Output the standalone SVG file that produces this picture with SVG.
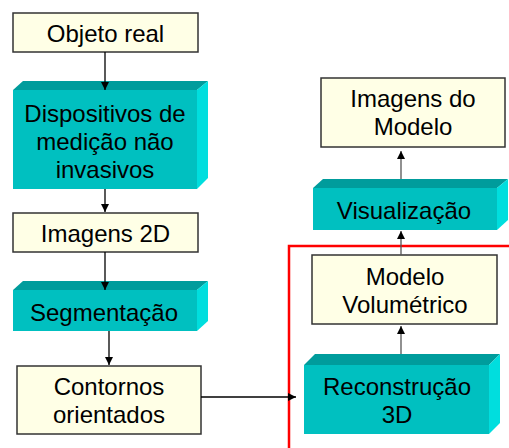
<svg xmlns="http://www.w3.org/2000/svg" width="509" height="448" viewBox="0 0 509 448">
<defs>
<style>
.box{fill:#FFFFE6;stroke:#333;stroke-width:1.5}
.front{fill:#00C0C0}
.top{fill:#009C9C}
.side{fill:#00DEDE}
.t{font-family:"Liberation Sans",Arial,sans-serif;font-size:24px;fill:#000;text-anchor:middle}
.c{stroke:#000;stroke-width:1.3;fill:none}
.cg{stroke:#555;stroke-width:1.3;fill:none}
</style>
<marker id="ah" viewBox="0 0 10 10" refX="10" refY="5" markerWidth="8" markerHeight="8" markerUnits="userSpaceOnUse" orient="auto">
<path d="M0,0 L10,5 L0,10 z" fill="#000"/>
</marker>
</defs>
<rect x="289" y="246" width="240" height="220" fill="none" stroke="#FF0000" stroke-width="2.5"/>
<g id="objeto-real">
<rect class="box" x="13" y="13" width="185" height="39"/>
<text class="t" x="105.5" y="42">Objeto real</text>
</g>
<g id="dispositivos">
<polygon class="top" points="13,90 23,81 208,81 197,90"/>
<polygon class="side" points="197,90 208,81 208,178 197,189"/>
<rect class="front" x="13" y="90" width="184" height="99"/>
<text class="t" x="105" y="122">Dispositivos de</text>
<text class="t" x="105" y="150">medição não</text>
<text class="t" x="105" y="178">invasivos</text>
</g>
<g id="imagens-2d">
<rect class="box" x="13" y="213" width="185" height="39"/>
<text class="t" x="105.5" y="242">Imagens 2D</text>
</g>
<g id="segmentacao">
<polygon class="top" points="13,290 23,281 208,281 197,290"/>
<polygon class="side" points="197,290 208,281 208,321 197,331"/>
<rect class="front" x="13" y="290" width="184" height="41"/>
<text class="t" x="104" y="321">Segmentação</text>
</g>
<g id="contornos">
<rect class="box" x="17" y="366" width="184" height="68"/>
<text class="t" x="109" y="395">Contornos</text>
<text class="t" x="109" y="423">orientados</text>
</g>
<g id="imagens-modelo">
<rect class="box" x="321" y="78" width="184" height="69"/>
<text class="t" x="413" y="107">Imagens do</text>
<text class="t" x="413" y="135">Modelo</text>
</g>
<g id="visualizacao">
<polygon class="top" points="313,188 323,179 508,179 497,188"/>
<polygon class="side" points="497,188 508,179 508,220 497,230"/>
<rect class="front" x="313" y="188" width="184" height="42"/>
<text class="t" x="404" y="219">Visualização</text>
</g>
<g id="modelo-volumetrico">
<rect class="box" x="312" y="255" width="185" height="69"/>
<text class="t" x="405" y="285">Modelo</text>
<text class="t" x="405" y="313">Volumétrico</text>
</g>
<g id="reconstrucao">
<polygon class="top" points="304,365 315,354 500,354 489,365"/>
<polygon class="side" points="489,365 500,354 500,423 489,434"/>
<rect class="front" x="304" y="365" width="185" height="69"/>
<text class="t" x="397" y="395">Reconstrução</text>
<text class="t" x="397" y="423">3D</text>
</g>
<g id="connectors">
<line class="c" x1="105" y1="52" x2="105" y2="90" marker-end="url(#ah)"/>
<line class="c" x1="105" y1="189" x2="105" y2="212" marker-end="url(#ah)"/>
<line class="c" x1="105" y1="252" x2="105" y2="290" marker-end="url(#ah)"/>
<line class="c" x1="109" y1="331" x2="109" y2="365" marker-end="url(#ah)"/>
<line class="c" x1="201" y1="397" x2="296" y2="397" marker-end="url(#ah)"/>
<line class="cg" x1="401" y1="354" x2="401" y2="326" marker-end="url(#ah)"/>
<line class="cg" x1="401" y1="255" x2="401" y2="231" marker-end="url(#ah)"/>
<line class="cg" x1="401" y1="179" x2="401" y2="151" marker-end="url(#ah)"/>
</g>
</svg>
